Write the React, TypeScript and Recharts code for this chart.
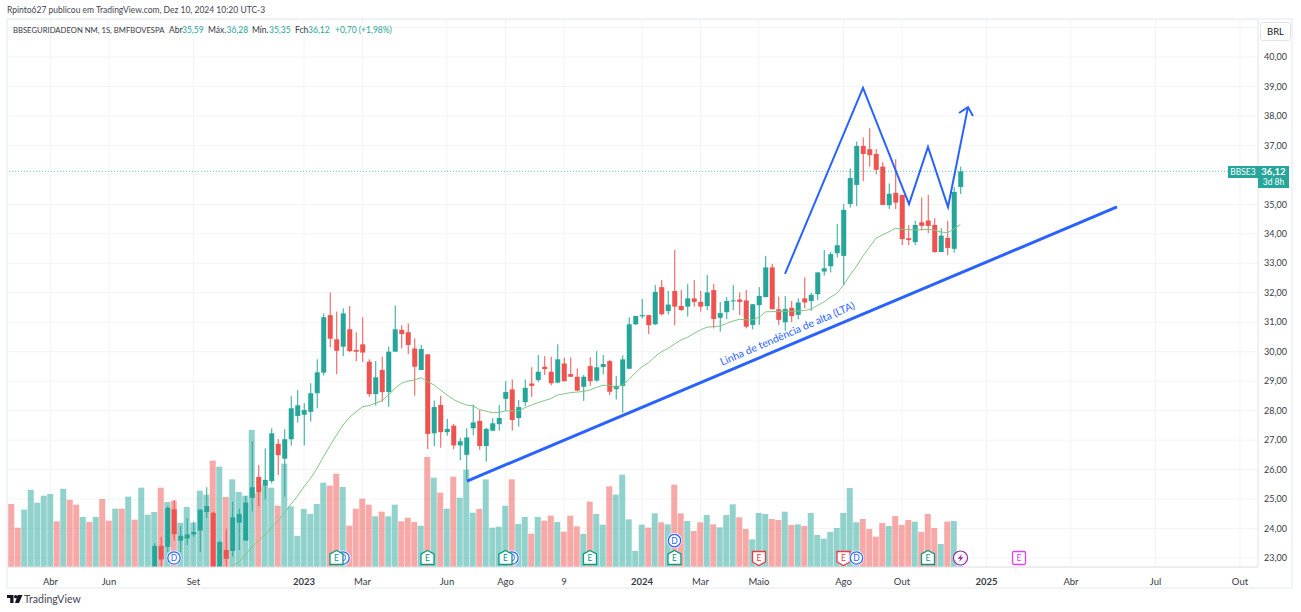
import { Bar, CartesianGrid, Cell, ComposedChart, Line, ReferenceDot, ReferenceLine, XAxis, YAxis } from 'recharts';

const UP = '#26a69a';
const DOWN = '#ef5350';
const BLUE = '#2962ff';
const FONT = 'Lato, sans-serif';

// relative weekly volume, bar 0 is the left-most one
const volumes = [
  189, 118, 172, 232, 193, 214, 219, 137, 235, 202,
  187, 150, 135, 150, 204, 139, 175, 175, 211, 142,
  238, 157, 165, 238, 195, 199, 133, 180, 133, 229,
  217, 319, 301, 210, 263, 225, 214, 411, 222, 244,
  238, 184, 310, 182, 93, 174, 159, 189, 253, 244,
  280, 240, 124, 175, 205, 187, 152, 166, 152, 187,
  137, 148, 135, 124, 330, 268, 223, 175, 271, 208,
  292, 163, 174, 263, 118, 121, 184, 263, 129, 150,
  100, 150, 139, 154, 135, 106, 154, 122, 99, 196,
  159, 127, 242, 217, 277, 143, 48, 127, 118, 161,
  134, 128, 247, 161, 138, 108, 134, 156, 128, 119,
  156, 188, 149, 114, 83, 162, 159, 144, 141, 166,
  126, 128, 123, 162, 96, 85, 105, 117, 162, 237,
  134, 144, 114, 91, 132, 123, 153, 126, 141, 136,
  105, 159, 117, 69, 136, 138, 4,
];

// the first 22 weeks have their candles below the visible range
const earlyVolumeDir = 'rtttttrtrrtrtrrtrtrtt'.padStart(22, 'r');

// candles start at bar 22
const candleStart = 22;
const opens = [
  22.6, 23.41, 23.38, 24.65, 23.59, 23.66, 23.8, 23.93, 24.56, 24.53,
  22.6, 23.27, 23.24, 24.2, 23.59, 25.04, 25.75, 25.45, 25.61, 26.87,
  26.37, 27.03, 27.82, 27.86, 27.96, 28.59, 29.29, 31.24, 30.42, 30.17,
  30.76, 30.06, 30.25, 29.66, 28.56, 29.38, 28.63, 30.0, 30.74, 30.66,
  30.11, 29.38, 29.91, 27.23, 28.19, 27.27, 27.49, 26.82, 26.5, 27.4,
  27.65, 26.8, 27.32, 27.54, 28.4, 28.72, 27.75, 28.29, 28.92, 29.04,
  29.49, 29.32, 28.95, 29.6, 29.24, 29.15, 28.81, 29.51, 29.02, 29.48,
  29.68, 28.73, 28.84, 29.42, 30.93, 31.2, 31.24, 30.93, 32.19, 31.38,
  32.06, 31.55, 31.53, 31.81, 31.69, 31.55, 32.09, 31.15, 31.34, 31.72,
  31.77, 31.74, 30.91, 31.58, 31.85, 32.86, 31.44, 31.0, 31.49, 31.25,
  31.81, 31.72, 31.95, 32.72, 32.9, 33.34, 33.25, 35.01, 35.66, 36.98,
  36.87, 36.71, 36.28, 34.97, 35.39, 35.32, 33.85, 33.72, 34.39, 34.45,
  34.3, 33.38, 33.86, 33.49, 35.59,
];
const highs = [
  23.5, 23.72, 24.76, 24.97, 24.09, 24.36, 24.23, 24.65, 25.4, 24.57,
  23.59, 23.97, 24.91, 24.67, 25.1, 26.96, 26.15, 26.72, 27.4, 27.03,
  27.37, 28.49, 28.7, 28.25, 28.93, 29.74, 31.3, 32.01, 31.36, 31.47,
  31.55, 30.66, 31.17, 29.74, 29.68, 29.83, 30.17, 31.57, 30.9, 30.96,
  30.45, 30.23, 29.91, 28.34, 28.5, 27.72, 27.55, 27.08, 27.4, 28.21,
  28.02, 27.42, 27.74, 28.19, 29.0, 29.06, 28.36, 29.06, 29.47, 29.89,
  29.85, 29.83, 30.25, 29.8, 29.8, 29.43, 29.21, 29.81, 30.02, 29.89,
  29.72, 29.18, 29.88, 31.17, 31.21, 31.79, 31.24, 32.26, 32.43, 32.06,
  33.45, 32.09, 32.29, 32.43, 32.06, 32.6, 32.3, 31.69, 31.85, 32.26,
  32.01, 32.09, 31.61, 32.19, 33.25, 32.98, 31.87, 31.89, 31.72, 31.81,
  32.52, 32.0, 32.69, 33.45, 33.39, 34.33, 35.01, 36.22, 37.13, 37.27,
  37.58, 36.88, 36.43, 35.71, 36.53, 35.32, 34.3, 34.44, 35.23, 35.32,
  34.53, 34.19, 34.44, 35.58, 36.28,
];
const lows = [
  22.5, 22.6, 23.2, 23.59, 23.2, 23.44, 23.72, 23.2, 24.36, 22.5,
  22.5, 22.6, 23.05, 23.27, 23.59, 24.58, 24.76, 25.0, 25.53, 25.82,
  25.08, 26.81, 27.59, 26.82, 27.63, 28.08, 29.19, 30.15, 29.24, 29.85,
  29.98, 29.68, 29.65, 28.47, 28.17, 28.29, 28.13, 30.0, 30.11, 29.92,
  28.51, 29.38, 26.7, 26.8, 26.74, 27.15, 26.69, 26.31, 25.65, 27.16,
  26.67, 26.27, 27.3, 27.32, 27.99, 27.32, 27.46, 28.16, 28.47, 28.97,
  29.21, 28.86, 28.93, 28.98, 29.15, 28.67, 28.33, 28.84, 28.98, 29.23,
  28.53, 28.38, 27.93, 29.42, 30.9, 31.13, 30.6, 30.9, 31.23, 31.26,
  30.9, 31.39, 31.19, 31.53, 31.36, 31.41, 30.79, 30.68, 31.11, 31.41,
  31.24, 30.79, 30.76, 30.91, 31.85, 31.44, 30.91, 30.71, 31.0, 31.1,
  31.47, 31.39, 31.75, 32.58, 32.69, 33.2, 32.26, 34.89, 34.94, 35.79,
  36.28, 36.03, 34.98, 34.84, 34.84, 33.62, 33.62, 33.62, 34.11, 34.02,
  33.36, 33.38, 33.27, 33.36, 35.35,
];
const closes = [
  23.41, 22.95, 24.7, 23.81, 23.75, 23.8, 23.88, 24.64, 24.76, 22.6,
  23.54, 22.97, 24.38, 24.49, 24.88, 25.4, 25.22, 25.65, 27.23, 26.49,
  27.03, 28.08, 28.18, 28.02, 28.59, 29.3, 31.17, 30.44, 30.03, 31.3,
  30.02, 30.0, 29.97, 28.56, 29.13, 28.63, 30.0, 30.76, 30.6, 30.23,
  29.49, 30.09, 27.21, 28.12, 27.27, 27.38, 26.82, 26.96, 27.09, 27.6,
  26.8, 27.38, 27.57, 27.75, 28.63, 27.68, 28.12, 28.77, 28.84, 29.32,
  29.41, 28.93, 29.74, 29.0, 29.15, 28.68, 29.15, 29.0, 29.47, 29.58,
  28.64, 28.84, 29.74, 30.93, 31.21, 31.24, 30.9, 32.03, 31.27, 31.6,
  31.53, 31.41, 31.81, 31.69, 31.53, 32.01, 31.11, 31.31, 31.72, 31.74,
  31.69, 30.85, 31.61, 31.89, 32.86, 31.44, 31.08, 31.45, 31.21, 31.67,
  31.67, 31.93, 32.69, 32.83, 33.31, 33.61, 34.81, 35.89, 36.98, 36.71,
  36.67, 36.17, 34.98, 35.36, 35.06, 33.82, 33.79, 34.3, 34.27, 34.27,
  33.38, 33.94, 33.52, 35.42, 36.12,
];

// 20 week average, visible from bar 33
const smaStart = 33;
const sma = [
  22.6, 22.73, 22.87, 23.1, 23.38, 23.59, 23.78, 24.04, 24.27, 24.52,
  24.83, 25.1, 25.42, 25.7, 26.04, 26.44, 26.81, 27.17, 27.51, 27.77,
  27.96, 28.13, 28.17, 28.25, 28.34, 28.53, 28.76, 28.93, 29.0, 29.04,
  29.12, 28.98, 28.87, 28.7, 28.53, 28.38, 28.27, 28.19, 28.16, 28.04,
  27.98, 27.93, 27.94, 27.99, 27.99, 27.99, 28.1, 28.19, 28.27, 28.34,
  28.41, 28.53, 28.57, 28.61, 28.63, 28.65, 28.7, 28.79, 28.86, 28.86,
  28.79, 28.87, 29.06, 29.29, 29.49, 29.62, 29.83, 30.0, 30.11, 30.26,
  30.4, 30.49, 30.62, 30.74, 30.83, 30.85, 30.87, 30.96, 31.04, 31.1,
  31.08, 31.08, 31.17, 31.35, 31.36, 31.36, 31.37, 31.37, 31.38, 31.4,
  31.44, 31.57, 31.69, 31.85, 31.98, 32.26, 32.6, 32.9, 33.25, 33.55,
  33.85, 33.96, 34.07, 34.19, 34.15, 34.14, 34.13, 34.14, 34.15, 34.13,
  34.06, 34.04, 34.16, 34.32,
];

const priceTicks = [23, 24, 25, 26, 27, 28, 29, 30, 31, 32, 33, 34, 35, 36, 37, 38, 39, 40, 41];
const hiddenPriceLabels = [36, 41]; // sit behind the price tag and the BRL button
const timeTicks = [6, 15, 28, 45, 54, 67, 76, 85, 97, 106, 115, 128, 137, 150, 163, 176, 189];
const timeLabels = ['Abr', 'Jun', 'Set', '2023', 'Mar', 'Jun', 'Ago', '9', '2024', 'Mar', 'Maio', 'Ago', 'Out', '2025', 'Abr', 'Jul', 'Out'];

// hand drawn lines of the author
const trendLine = [{ i: 70.08, price: 25.61 }, { i: 170.08, price: 34.91 }];
const zigzag = [
  { i: 119.0, price: 32.64 },
  { i: 131.0, price: 38.95 },
  { i: 138.08, price: 35.01 },
  { i: 141.0, price: 36.95 },
  { i: 144.08, price: 34.91 },
  { i: 147.15, price: 38.3 },
];
const arrowHead = [{ i: 145.77, price: 38.1 }, { i: 147.15, price: 38.3 }, { i: 147.92, price: 38.0 }];

const events = [
  { i: 25, price: 23, kind: 'D' },
  { i: 51, price: 23, kind: 'D' },
  { i: 50, price: 23, kind: 'E' },
  { i: 64, price: 23, kind: 'E' },
  { i: 77, price: 23, kind: 'D' },
  { i: 76, price: 23, kind: 'E' },
  { i: 89, price: 23, kind: 'E' },
  { i: 102, price: 23.59, kind: 'D' },
  { i: 102, price: 23, kind: 'E' },
  { i: 115, price: 23, kind: 'R' },
  { i: 128, price: 23, kind: 'R' },
  { i: 130, price: 23, kind: 'D' },
  { i: 141, price: 23, kind: 'E' },
  { i: 146, price: 23, kind: 'S' },
  { i: 155, price: 23, kind: 'F' },
];

const chartData = volumes.map((volume, i) => {
  const c = i - candleStart;
  const hasCandle = c >= 0;
  const up = hasCandle ? closes[c] >= opens[c] : earlyVolumeDir[i] === 't';
  return {
    i,
    volume,
    up,
    open: hasCandle ? opens[c] : null,
    high: hasCandle ? highs[c] : null,
    low: hasCandle ? lows[c] : null,
    close: hasCandle ? closes[c] : null,
    sma: i >= smaStart ? sma[i - smaStart] : null,
  };
});

function Candle(props: any) {
  const { x, y, width, height, payload } = props;
  if (payload.high == null || !height) return null;
  const color = payload.up ? UP : DOWN;
  const perUnit = height / (payload.high - payload.low);
  const top = y + (payload.high - Math.max(payload.open, payload.close)) * perUnit;
  const bodyHeight = Math.max(Math.abs(payload.open - payload.close) * perUnit, 1);
  const mid = x + width / 2;
  return (
    <g>
      <line x1={mid} x2={mid} y1={y} y2={y + height} stroke={color} strokeWidth={1} />
      <rect x={x} y={top} width={width} height={bodyHeight} fill={color} />
    </g>
  );
}

function EventMark({ cx, cy, kind }: any) {
  if (kind === 'D') {
    return (
      <g>
        <circle cx={cx} cy={cy} r={7.5} fill="#fff" />
        <circle cx={cx} cy={cy} r={6.2} fill="#fff" stroke={BLUE} strokeWidth={1.3} />
        <text x={cx} y={cy + 3} textAnchor="middle" fontSize={8.5} fontFamily={FONT} fill={BLUE}>D</text>
      </g>
    );
  }
  if (kind === 'S') {
    return (
      <g>
        <circle cx={cx} cy={cy} r={7} fill="#fff" stroke="#9c27b0" strokeWidth={1.2} />
        <path d={`M${cx + 1.5} ${cy - 4}L${cx - 3} ${cy + 0.8}L${cx - 0.2} ${cy + 0.8}L${cx - 1.5} ${cy + 4}L${cx + 3} ${cy - 0.8}L${cx + 0.2} ${cy - 0.8}Z`} fill="#9c27b0" />
      </g>
    );
  }
  if (kind === 'F') {
    return (
      <g>
        <rect x={cx - 6.5} y={cy - 6.5} width={13} height={13} rx={1.5} fill="#fff" stroke="#e040fb" strokeWidth={1.3} />
        <text x={cx} y={cy + 3} textAnchor="middle" fontSize={8.5} fontFamily={FONT} fill="#e040fb">E</text>
      </g>
    );
  }
  const color = kind === 'R' ? '#f23645' : '#089981';
  const outline = kind === 'R'
    ? `M${cx - 6.5} ${cy - 6.5}H${cx + 6.5}V${cy + 4}L${cx} ${cy + 7.5}L${cx - 6.5} ${cy + 4}Z`
    : `M${cx} ${cy - 7.5}L${cx + 6.5} ${cy - 4}V${cy + 6.5}H${cx - 6.5}V${cy - 4}Z`;
  return (
    <g>
      <path d={outline} fill="#fff" stroke={color} strokeWidth={1.3} />
      <text x={cx} y={cy + 3} textAnchor="middle" fontSize={8.5} fontFamily={FONT} fill={color}>E</text>
    </g>
  );
}

function TimeTick({ x, y, payload }: any) {
  const label = timeLabels[timeTicks.indexOf(payload.value)];
  const isYear = label.length === 4 && label.startsWith('20');
  return (
    <text x={x} y={y + 10} textAnchor="middle" fontSize={9.5} fontFamily={FONT} fontWeight={isYear ? 700 : 400} fill="#363a45">
      {label}
    </text>
  );
}

const trendLabel = (props: any) => (
  <text
    x={props.cx}
    y={props.cy}
    textAnchor="middle"
    fontSize={10.5}
    fontFamily={FONT}
    fill={BLUE}
    transform={`rotate(-23.4 ${props.cx} ${props.cy})`}
  >
    Linha de tendência de alta (LTA)
  </text>
);

const legendItems = [
  { x: 169, text: 'Abr', color: '#363a45' },
  { x: 182, text: '35,59', color: UP },
  { x: 208, text: 'Máx.', color: '#363a45' },
  { x: 226.5, text: '36,28', color: UP },
  { x: 252, text: 'Mín.', color: '#363a45' },
  { x: 269, text: '35,35', color: UP },
  { x: 295, text: 'Fch', color: '#363a45' },
  { x: 308, text: '36,12', color: UP },
  { x: 335, text: '+0,70 (+1,98%)', color: UP },
];

export default function App() {
  const spot = (left: number, top: number, extra: any = {}) => ({
    position: 'absolute' as const,
    left,
    top,
    whiteSpace: 'nowrap' as const,
    ...extra,
  });

  return (
    <div style={{ position: 'absolute', left: 0, top: 0, width: 1301, height: 612, background: '#fff', fontFamily: FONT, overflow: 'hidden' }}>
      <ComposedChart
        width={1301}
        height={612}
        data={chartData}
        margin={{ top: 20, right: 10, bottom: 25, left: 7 }}
        style={{ position: 'absolute', left: 0, top: 0 }}
      >
        <CartesianGrid stroke="#f3f4f7" strokeWidth={1} />
        <XAxis
          dataKey="i"
          type="number"
          domain={[-0.69, 191.77]}
          allowDataOverflow
          ticks={timeTicks}
          interval={0}
          height={20}
          tickLine={false}
          axisLine={{ stroke: '#dfe2e7' }}
          tick={<TimeTick />}
        />
        {/* the sparse month ticks would squeeze the bars, so the bars get their own x axes */}
        <XAxis xAxisId="vol" dataKey="i" type="number" domain={[-0.69, 191.77]} allowDataOverflow hide />
        <XAxis xAxisId="candle" dataKey="i" type="number" domain={[-0.69, 191.77]} allowDataOverflow hide />
        <YAxis
          orientation="right"
          type="number"
          width={33}
          domain={[22.694, 41.255]}
          allowDataOverflow
          ticks={priceTicks}
          interval={0}
          tickLine={false}
          tickMargin={0}
          axisLine={{ stroke: '#e6e8ec' }}
          tick={{ fontSize: 9, fontFamily: FONT, fill: '#363a45' }}
          tickFormatter={(v: number) => (hiddenPriceLabels.includes(v) ? '' : v.toFixed(2).replace('.', ','))}
        />
        <YAxis yAxisId="vol" type="number" domain={[0, 1641]} hide />
        <Bar xAxisId="vol" yAxisId="vol" dataKey="volume" barSize={6} isAnimationActive={false}>
          {chartData.map((d) => (
            <Cell key={d.i} fill={d.up ? UP : DOWN} fillOpacity={0.5} />
          ))}
        </Bar>
        <Line dataKey="sma" stroke="#81c784" strokeWidth={1} dot={false} isAnimationActive={false} />
        <Bar
          xAxisId="candle"
          dataKey={(d: any) => (d.high == null ? null : [d.low, d.high])}
          barSize={5}
          shape={<Candle />}
          isAnimationActive={false}
        />
        <ReferenceLine y={36.12} stroke="#26a69a" strokeOpacity={0.7} strokeDasharray="1 2" strokeWidth={1} />
        <Line data={trendLine} dataKey="price" stroke={BLUE} strokeWidth={3} dot={false} isAnimationActive={false} />
        <Line data={zigzag} dataKey="price" stroke={BLUE} strokeWidth={2} dot={false} isAnimationActive={false} />
        <Line data={arrowHead} dataKey="price" stroke={BLUE} strokeWidth={2} dot={false} isAnimationActive={false} />
        <ReferenceDot x={119.6} y={30.5} r={0} shape={trendLabel} />
        {events.map((e, n) => (
          <ReferenceDot key={n} x={e.i} y={e.price} r={0} shape={(p: any) => <EventMark cx={p.cx} cy={p.cy} kind={e.kind} />} />
        ))}
      </ComposedChart>

      <div style={{ position: 'absolute', left: 6, top: 18, width: 1283, height: 567, border: '2px solid #f0f3fa', pointerEvents: 'none' }} />

      <div style={spot(7, 3, { fontSize: 8.5, lineHeight: '14px', color: '#434651' })}>
        Rpinto627 publicou em TradingView.com, Dez 10, 2024 10:20 UTC-3
      </div>
      <div style={spot(13, 23, { fontSize: 7.7, lineHeight: '14px', color: '#363a45' })}>BBSEGURIDADEON NM, 1S, BMFBOVESPA</div>
      {legendItems.map((item) => (
        <div key={item.x} style={spot(item.x, 23, { fontSize: 8.5, lineHeight: '14px', color: item.color })}>{item.text}</div>
      ))}

      <div style={spot(1260, 22, { width: 29, height: 17, border: '1px solid #e0e3eb', borderRadius: 3, background: '#fff', fontSize: 9.5, lineHeight: '17px', textAlign: 'center', color: '#131722' })}>BRL</div>

      <div style={spot(1228, 166, { width: 30, height: 12, background: UP, color: '#fff', fontSize: 8.5, lineHeight: '12px', textAlign: 'center' })}>BBSE3</div>
      <div style={spot(1258, 166, { width: 31, height: 21, background: UP, color: '#fff', fontSize: 9.5, lineHeight: '10px', textAlign: 'center', paddingTop: 1 })}>
        <div style={{ fontWeight: 700 }}>36,12</div>
        <div style={{ fontSize: 8.5 }}>3d 8h</div>
      </div>

      <svg width={16} height={9} style={{ position: 'absolute', left: 7, top: 595 }}>
        <path d="M0 0H6.5V8H3.2V3H0Z" fill="#131722" />
        <circle cx={8.6} cy={1.7} r={1.6} fill="#131722" />
        <path d="M10.6 0H15.5L12 8H8Z" fill="#131722" />
      </svg>
      <div style={spot(24, 592, { fontSize: 10.5, lineHeight: '14px', color: '#434651' })}>TradingView</div>
    </div>
  );
}
